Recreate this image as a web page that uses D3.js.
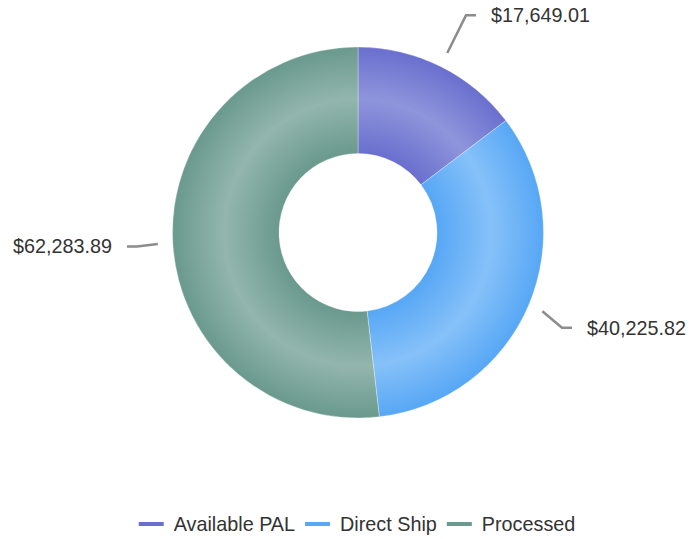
<!DOCTYPE html>
<html>
<head>
    <meta charset="utf-8">
    <title>donut</title>
    <script src="https://cdn.jsdelivr.net/npm/d3@7/dist/d3.min.js"></script>
    <style>
      body { margin: 0; background: #fff; }
      text { font-family: "Liberation Sans", Arial, sans-serif; fill: #333; }
    </style>
</head>
<body>
<script type="text/javascript">
    var categories = ["Available PAL", "Direct Ship", "Processed"];
    var values = [17649.01, 40225.82, 62283.89];
    var baseColors = ["#6a6fce", "#57a7f5", "#6a998d"];
    var lightColors = ["#8f95db", "#86c1f9", "#93b6ad"];

    var width = 693, height = 539,
        cx = 358, cy = 232.5,
        outerR = 185.5, innerR = 79,
        fontSize = 19.8;

    var svg = d3.select("body").append("svg")
        .attr("width", width)
        .attr("height", height);

    var data = categories.map(function(c, i) { return {name: c, value: values[i], i: i}; });

    var pie = d3.pie().sort(null).value(function(d) { return d.value; });
    var arc = d3.arc().innerRadius(innerR).outerRadius(outerR);
    var arcs = pie(data);

    // radial bevel gradients, one per series (coords are relative to the chart group)
    var defs = svg.append("defs");
    data.forEach(function(d) {
      var g = defs.append("radialGradient")
        .attr("id", "grad" + d.i)
        .attr("gradientUnits", "userSpaceOnUse")
        .attr("cx", 0).attr("cy", 0).attr("r", outerR);
      g.append("stop").attr("offset", innerR / outerR).attr("stop-color", baseColors[d.i]);
      g.append("stop").attr("offset", 0.72).attr("stop-color", lightColors[d.i]);
      g.append("stop").attr("offset", 1).attr("stop-color", baseColors[d.i]);
    });

    var chart = svg.append("g").attr("transform", "translate(" + cx + "," + cy + ")");

    chart.selectAll("path.slice")
      .data(arcs)
      .enter().append("path")
      .attr("class", "slice")
      .attr("d", arc)
      .attr("fill", function(d) { return "url(#grad" + d.data.i + ")"; })
      .attr("stroke", "rgba(255,255,255,0.45)")
      .attr("stroke-width", 0.7);

    // labels with connectors
    var fmt = d3.format("$,.2f");
    function polar(a, r) { return [Math.sin(a) * r, -Math.cos(a) * r]; }

    arcs.forEach(function(d) {
      var mid = (d.startAngle + d.endAngle) / 2;
      var right = Math.sin(mid) >= 0;
      var start = polar(mid, outerR + 15);
      var elbow = polar(mid, outerR + 57);
      var txt = chart.append("text")
        .attr("font-size", fontSize)
        .attr("dy", "0.35em")
        .text(fmt(d.data.value));
      var tw = txt.node().getComputedTextLength();
      // keep the label inside the chart
      var textX = right ? elbow[0] + 25 : elbow[0] - 25 - tw;
      if (cx + textX + tw > width - 7) textX = width - 7 - tw - cx;
      if (cx + textX < 13) textX = 13 - cx;
      var endX = right ? textX - 15 : textX + tw + 15;
      var elbowX = right ? Math.min(elbow[0], endX - 10) : Math.max(elbow[0], endX + 10);
      txt.attr("x", textX).attr("y", elbow[1]);
      chart.append("polyline")
        .attr("points", [start, [elbowX, elbow[1]], [endX, elbow[1]]].map(function(p) { return p.join(","); }).join(" "))
        .attr("fill", "none")
        .attr("stroke", "#8c8c8c")
        .attr("stroke-width", 2.5);
    });

    // legend
    var legend = svg.append("g");
    var x = 0;
    data.forEach(function(d) {
      var item = legend.append("g").attr("transform", "translate(" + x + ",0)");
      item.append("line")
        .attr("x1", 0).attr("x2", 25).attr("y1", 0).attr("y2", 0)
        .attr("stroke", baseColors[d.i]).attr("stroke-width", 4);
      var t = item.append("text")
        .attr("x", 35).attr("dy", "0.35em")
        .attr("font-size", fontSize)
        .text(d.name);
      x += 35 + t.node().getComputedTextLength() + 10;
    });
    var legendW = x - 10;
    legend.attr("transform", "translate(" + (357 - legendW / 2) + ",524)");
</script>
</body>
</html>
